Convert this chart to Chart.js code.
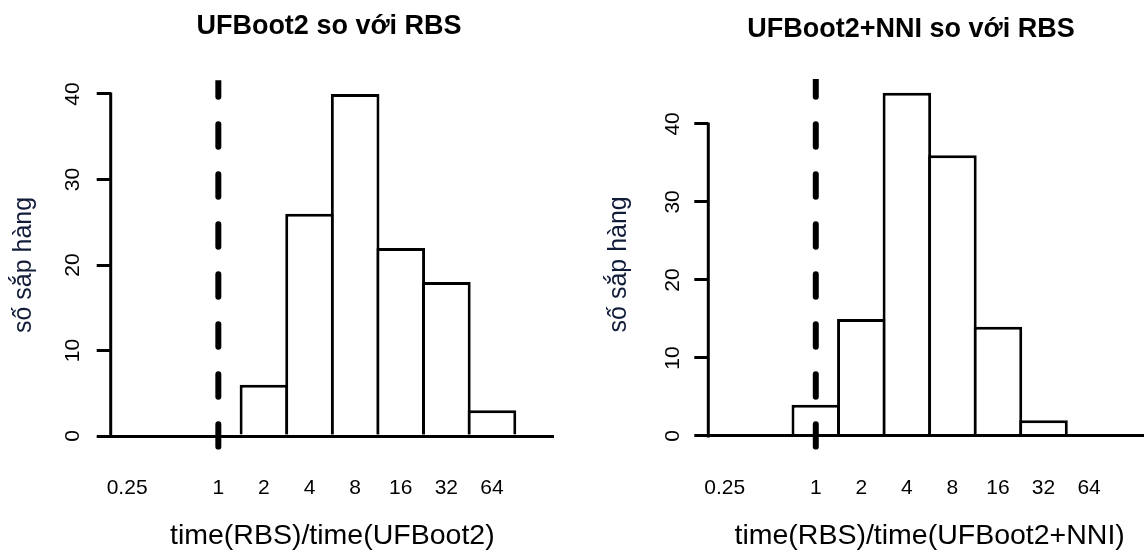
<!DOCTYPE html>
<html>
<head>
<meta charset="utf-8">
<script src="https://cdn.jsdelivr.net/npm/chart.js@4.4.1/dist/chart.umd.min.js"></script>
<style>
  html, body { margin: 0; padding: 0; background: #fff; overflow: hidden; width: 1144px; height: 550px; }
  canvas { position: absolute; top: 0; }
  #leftChart { left: 0; }
  #rightChart { left: 585px; }
</style>
</head>
<body>
<canvas id="leftChart" width="658" height="550"></canvas>
<canvas id="rightChart" width="652" height="550"></canvas>
<script>
// histogram bins are centred on powers of two of time(RBS)/time(...)
const binRatios = [0.25, 0.5, 1, 2, 4, 8, 16, 32, 64, 128];
const ufbootCounts = [0, 0, 0, 6, 26, 40, 22, 18, 3, 0];
const nniCounts = [0, 0, 4, 15, 44, 36, 14, 2, 0, 0];
const xTickLabels = ['0.25', '1', '2', '4', '8', '16', '32', '64'];
const yTicks = [0, 10, 20, 30, 40];
const xLimits = [0.25, 128];
const refRatio = 1;

const FONT = '"Liberation Sans", Arial, Helvetica, sans-serif';
const LW = 3;

// y axis line (only 0..40 like R) and the dashed line at ratio 1
const histAxisPlugin = {
    id: 'histAxis',
    afterDraw(chart) {
        const { ctx, chartArea, scales } = chart;
        const yTop = scales.y.getPixelForValue(yTicks[yTicks.length - 1]);
        const yBottom = scales.y.getPixelForValue(yTicks[0]);
        ctx.save();
        ctx.strokeStyle = '#000';
        ctx.lineWidth = LW;
        ctx.lineCap = 'square';
        ctx.beginPath();
        ctx.moveTo(chartArea.left, yBottom);
        ctx.lineTo(chartArea.left, yTop);
        ctx.stroke();

        ctx.beginPath();
        ctx.rect(chartArea.left, chartArea.top, chartArea.right - chartArea.left, chartArea.bottom - chartArea.top);
        ctx.clip();
        const x = scales.x.getPixelForValue(Math.log2(refRatio));
        ctx.lineWidth = 6;
        ctx.lineCap = 'round';
        ctx.setLineDash([22.5, 27.5]);
        ctx.beginPath();
        ctx.moveTo(x, chartArea.bottom - 3);
        ctx.lineTo(x, chartArea.top);
        ctx.stroke();
        ctx.restore();
    }
};

function makeChart(id, counts, opts) {
    const lo = Math.log2(xLimits[0]);
    const hi = Math.log2(xLimits[1]);
    const xPad = (hi - lo) * 0.04;
    const yMax = Math.max(...counts);
    const yPad = yMax * 0.04;

    return new Chart(document.getElementById(id), {
        type: 'bar',
        data: {
            datasets: [{
                data: binRatios.map((r, i) => ({ x: Math.log2(r), y: counts[i] })),
                backgroundColor: '#fff',
                borderColor: '#000',
                borderWidth: LW,
                barPercentage: 1.066,
                categoryPercentage: 1
            }]
        },
        options: {
            responsive: false,
            animation: false,
            events: [],
            layout: { padding: 0 },
            plugins: {
                legend: { display: false },
                tooltip: { enabled: false },
                title: {
                    display: true,
                    text: opts.title,
                    color: '#000',
                    font: { family: FONT, size: 27, weight: 'bold' },
                    padding: opts.titlePad
                }
            },
            scales: {
                x: {
                    type: 'linear',
                    min: lo - xPad,
                    max: hi + xPad,
                    offset: false,
                    grid: { display: false, drawTicks: false },
                    border: { display: false },
                    afterBuildTicks: axis => {
                        axis.ticks = xTickLabels.map(l => ({ value: Math.log2(Number(l)) }));
                    },
                    ticks: {
                        autoSkip: false,
                        maxRotation: 0,
                        padding: 25.7,
                        color: '#000',
                        font: { family: FONT, size: 21 },
                        callback: (v, i) => xTickLabels[i]
                    },
                    title: {
                        display: true,
                        text: opts.xLabel,
                        color: '#000',
                        font: { family: FONT, size: 28.5, lineHeight: 1 },
                        padding: { top: 0, bottom: 0 }
                    },
                    afterFit: axis => { axis.height = 100.3; }
                },
                y: {
                    min: -yPad,
                    max: yMax + yPad,
                    grid: {
                        z: 1,
                        color: ctx => (ctx.tick && ctx.tick.value === 0 ? '#000' : 'rgba(0,0,0,0)'),
                        lineWidth: LW,
                        tickColor: '#000',
                        tickWidth: LW,
                        tickLength: 14
                    },
                    border: { display: false },
                    afterBuildTicks: axis => {
                        axis.ticks = yTicks.map(v => ({ value: v }));
                    },
                    ticks: {
                        minRotation: 90,
                        maxRotation: 90,
                        crossAlign: 'center',
                        padding: opts.yTickPad,
                        color: '#000',
                        font: { family: FONT, size: 21 },
                        callback: v => String(v)
                    },
                    title: {
                        display: true,
                        text: 'số sắp hàng',
                        color: '#101c38',
                        font: { family: FONT, size: 25 },
                        padding: { top: opts.yTitlePad, bottom: 0 }
                    },
                    afterFit: axis => { axis.width = opts.yAxisWidth; }
                },
                spacer: {
                    type: 'linear',
                    position: 'right',
                    display: true,
                    grid: { display: false, drawTicks: false },
                    border: { display: false },
                    ticks: { display: false },
                    afterFit: axis => { axis.width = opts.rightSpace; }
                }
            }
        },
        plugins: [histAxisPlugin]
    });
}

makeChart('leftChart', ufbootCounts, {
    title: 'UFBoot2 so với RBS',
    xLabel: 'time(RBS)/time(UFBoot2)',
    titlePad: { top: 10.4, bottom: 37.5 },
    yAxisWidth: 110.7,
    rightSpace: 104,
    yTickPad: 12,
    yTitlePad: 9
});

makeChart('rightChart', nniCounts, {
    title: 'UFBoot2+NNI so với RBS',
    xLabel: 'time(RBS)/time(UFBoot2+NNI)',
    titlePad: { top: 13.7, bottom: 32.9 },
    yAxisWidth: 123.3,
    rightSpace: 86,
    yTickPad: 9.6,
    yTitlePad: 19
});
</script>
</body>
</html>
